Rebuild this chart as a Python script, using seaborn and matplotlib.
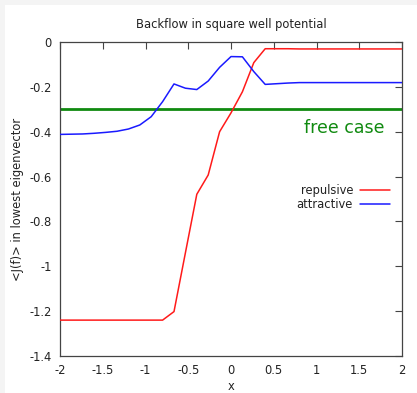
import numpy as np
import pandas as pd
import matplotlib
matplotlib.use("Agg")
import matplotlib.pyplot as plt
import seaborn as sns
from matplotlib.patches import Rectangle

sns.set_theme(style="white")
plt.rcParams['font.family'] = ['DejaVu Sans']

# sample positions across the well region
x = [-2.0, -1.8667, -1.7333, -1.6, -1.4667, -1.3333, -1.2, -1.0667, -0.9333, -0.8,
     -0.6667, -0.5333, -0.4, -0.2667, -0.1333, 0.0, 0.1333, 0.2667, 0.4, 0.5333,
     0.6667, 0.8, 0.9333, 1.0667, 1.2, 1.3333, 1.4667, 1.6, 1.7333, 1.8667, 2.0]

repulsive = [-1.24, -1.24, -1.24, -1.24, -1.24, -1.24, -1.24, -1.24, -1.24, -1.24,
             -1.202, -0.94, -0.679, -0.593, -0.40, -0.316, -0.222, -0.092, -0.030, -0.030,
             -0.030, -0.031, -0.031, -0.031, -0.031, -0.031, -0.031, -0.031, -0.031, -0.031, -0.031]

attractive = [-0.412, -0.411, -0.410, -0.407, -0.403, -0.398, -0.388, -0.370, -0.333, -0.266,
              -0.187, -0.206, -0.212, -0.174, -0.113, -0.065, -0.066, -0.132, -0.189, -0.186,
              -0.183, -0.181, -0.181, -0.181, -0.181, -0.181, -0.181, -0.181, -0.181, -0.181, -0.181]

free_value = -0.30

x_ticks = [-2, -1.5, -1, -0.5, 0, 0.5, 1, 1.5, 2]
x_tick_labels = ["-2", "-1.5", "-1", "-0.5", "0", "0.5", "1", "1.5", "2"]
y_ticks = [0, -0.2, -0.4, -0.6, -0.8, -1, -1.2, -1.4]
y_tick_labels = ["0", "-0.2", "-0.4", "-0.6", "-0.8", "-1", "-1.2", "-1.4"]

df = pd.DataFrame({"x": x, "repulsive": repulsive, "attractive": attractive})

W, H = 417, 393
fig = plt.figure(figsize=(W / 100, H / 100), dpi=100, facecolor="#f4f4f4")
# white canvas with a thin grey margin at the top and left
fig.patches.append(Rectangle((5 / W, 0), 1, 1 - 5 / H, transform=fig.transFigure,
                             facecolor="white", edgecolor="none", zorder=-5))
ax = fig.add_axes([60 / W, 1 - 356 / H, (402 - 60) / W, (356 - 42) / H])
ax.set_facecolor("white")

sns.lineplot(data=df, x="x", y="repulsive", ax=ax, color="#ff1a1a", lw=1.1,
             label="repulsive", zorder=3)
sns.lineplot(data=df, x="x", y="attractive", ax=ax, color="#1a1aff", lw=1.1,
             label="attractive", zorder=3)
ax.axhline(free_value, color="#108a10", lw=2.0, zorder=2)
ax.text(1.33, -0.385, "free case", color="#108a10", fontsize=12.5,
        ha="center", va="center")

ax.set_xlim(-2, 2)
ax.set_ylim(-1.4, 0)
ax.set_xticks(x_ticks)
ax.set_xticklabels(x_tick_labels)
ax.set_yticks(y_ticks)
ax.set_yticklabels(y_tick_labels)
ax.tick_params(direction="in", length=5, width=0.8, color="#444444",
               labelsize=8.3, labelcolor="#222222", top=True, right=True,
               labeltop=False, labelright=False, pad=6)
for s in ax.spines.values():
    s.set_color("#444444")
    s.set_linewidth(0.9)

ax.set_title("Backflow in square well potential", fontsize=8.3, color="#222222", pad=10)
ax.set_xlabel("x", fontsize=8.3, color="#222222", labelpad=2)
ax.set_ylabel("<J(f)> in lowest eigenvector", fontsize=8.3, color="#222222", labelpad=4)

leg = ax.legend(loc="center right", bbox_to_anchor=(0.995, 0.505), frameon=False,
                fontsize=8.3, markerfirst=False, handlelength=2.6, handletextpad=0.6,
                labelspacing=0.15)
for t in leg.get_texts():
    t.set_color("#222222")

fig.savefig("out.png", dpi=100, facecolor=fig.get_facecolor())
